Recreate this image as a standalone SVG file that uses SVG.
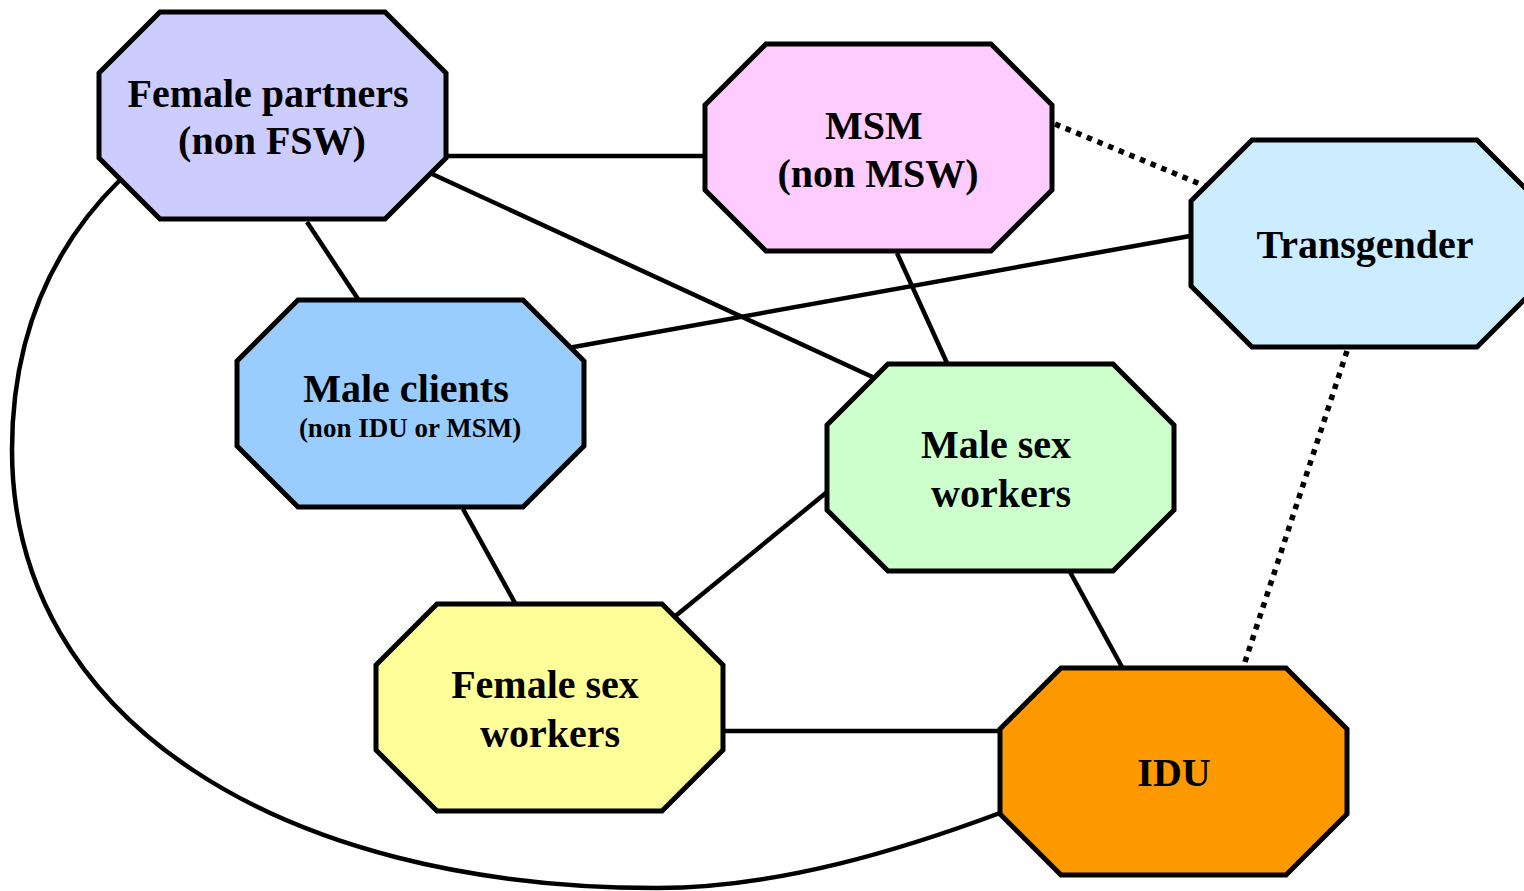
<svg xmlns="http://www.w3.org/2000/svg" width="1524" height="891" viewBox="0 0 1524 891">
<defs>
<style>
.oct{stroke:#000;stroke-width:5;stroke-linejoin:miter}
.lbl{font-family:"Liberation Serif","Times New Roman",serif;font-weight:bold;font-size:40px;fill:#000;text-anchor:middle}
.sm{font-size:27px}
.c{stroke:#000;stroke-width:4.5;fill:none}
.d{stroke:#000;stroke-width:5.5;fill:none;stroke-dasharray:5.5 6}
</style>
<polygon id="octShape" points="61,0 286,0 347,61 347,146 286,207 61,207 0,146 0,61"/>
</defs>
<rect width="1524" height="891" fill="#fff"/>
<g id="connectors">
<line class="c" x1="446" y1="156" x2="705" y2="156"/>
<line class="c" x1="430" y1="173" x2="879" y2="380"/>
<line class="c" x1="307" y1="222" x2="358" y2="299"/>
<line class="c" x1="568" y1="348" x2="1190" y2="236"/>
<line class="c" x1="897" y1="253" x2="947" y2="363"/>
<line class="c" x1="463" y1="509" x2="515" y2="603"/>
<line class="c" x1="827" y1="492" x2="673" y2="618"/>
<line class="c" x1="723" y1="731" x2="1000" y2="731"/>
<line class="c" x1="1070" y1="572" x2="1122" y2="667"/>
<path class="c" d="M120,180 C43,256 12,350 12,450 C12,720 280,888 657,888 C780,888 906,848 1000,813"/>
<line class="d" x1="1055" y1="124" x2="1205" y2="186"/>
<line class="d" x1="1347" y1="351" x2="1245" y2="662"/>
</g>
<g id="female-partners">
<use href="#octShape" class="oct" x="99" y="12" fill="#CCCCFF"/>
<text class="lbl" x="268" y="107">Female partners</text>
<text class="lbl" x="272" y="154">(non FSW)</text>
</g>
<g id="msm">
<use href="#octShape" class="oct" x="705" y="44" fill="#FFCCFF"/>
<text class="lbl" x="874" y="139">MSM</text>
<text class="lbl" x="878" y="187">(non MSW)</text>
</g>
<g id="transgender">
<use href="#octShape" class="oct" x="1191" y="140" fill="#CCECFF"/>
<text class="lbl" x="1365" y="258">Transgender</text>
</g>
<g id="male-clients">
<use href="#octShape" class="oct" x="237" y="300" fill="#99CCFF"/>
<text class="lbl" x="406" y="402">Male clients</text>
<text class="lbl sm" x="410" y="437">(non IDU or MSM)</text>
</g>
<g id="male-sex-workers">
<use href="#octShape" class="oct" x="827" y="364" fill="#CCFFCC"/>
<text class="lbl" x="996" y="458">Male sex</text>
<text class="lbl" x="1001" y="507">workers</text>
</g>
<g id="female-sex-workers">
<use href="#octShape" class="oct" x="376" y="604" fill="#FFFF99"/>
<text class="lbl" x="545" y="698">Female sex</text>
<text class="lbl" x="550" y="747">workers</text>
</g>
<g id="idu">
<use href="#octShape" class="oct" x="1000" y="668" fill="#FF9900"/>
<text class="lbl" x="1174" y="786">IDU</text>
</g>
</svg>
